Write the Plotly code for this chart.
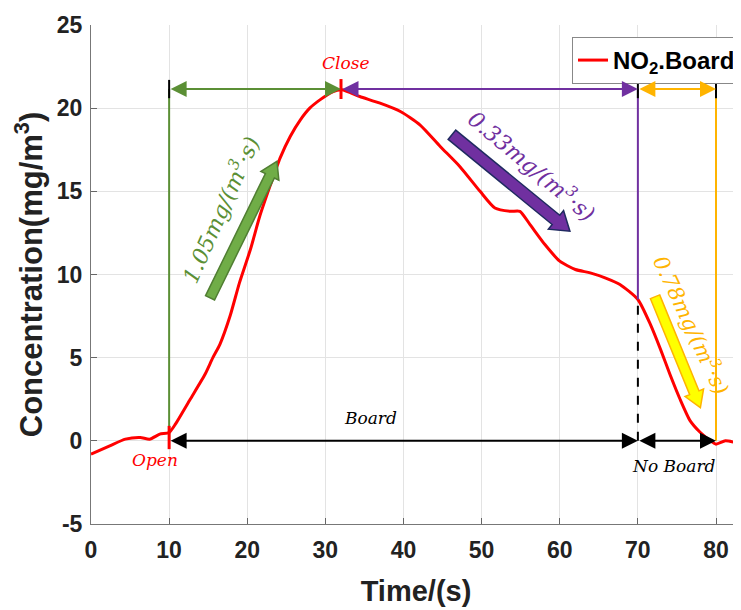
import math
import plotly.graph_objects as go

# Data
time_s = [0, 2.4, 4.4, 6.3, 7.5, 8.8, 10, 10.8, 12.7, 14.6, 15.6, 16.5, 17.8, 19, 20.4, 21.6, 22.9, 24.2,
          25.5, 26.8, 28, 29.3, 31, 32.1, 34.4, 37, 39.6, 42.1, 44.7, 47.2, 49.8, 51.7, 53.7, 54.9,
          56.2, 58.1, 60, 62, 63.9, 65.8, 67.7, 70, 71.6, 72.9, 74.1, 75.4, 76.7, 78, 79.3, 80,
          81.2, 82.5, 83.3]
no2_board = [-0.8, -0.3, 0.1, 0.2, 0.1, 0.4, 0.5, 1.0, 2.5, 4.0, 5.0, 5.8, 7.5, 9.5, 11.5, 13.5, 15.3, 17.0,
             18.3, 19.3, 20.0, 20.5, 21.0, 21.1, 20.7, 20.3, 19.8, 19.0, 17.7, 16.5, 15.0, 14.0, 13.8, 13.8,
             13.0, 11.8, 10.8, 10.3, 10.1, 9.8, 9.4, 8.5, 7.0, 5.5, 4.0, 2.5, 1.2, 0.5, 0.0, -0.2,
             0.0, -0.1, -0.2]
x_ticks = [0, 10, 20, 30, 40, 50, 60, 70, 80]
y_ticks = [-5, 0, 5, 10, 15, 20, 25]
y_tick_text = ["-5", "0", "5", "10", "15", "20", "25"]
t_open, t_close, t_cut, t_end = 10, 32, 70, 80
level_top = 21.15
y_at_cut = 8.5
rate_labels = ["1.05mg/(m<sup>3</sup>·s)", "0.33mg/(m<sup>3</sup>·s)", "0.78mg/(m<sup>3</sup>·s)"]
# rate arrows: (tail x, tail y, tip x, tip y)
rate_arrows = [(15.24, 8.6, 23.8, 16.8), (46.2, 18.4, 61.3, 12.6), (72.2, 8.66, 78.0, 2.0)]

X_RANGE = [0, 83.2]
Y_RANGE = [-5, 25]
# the page body adds an 8px offset; size and margins compensate
W, H = 733, 602
M = dict(l=83, r=0, t=17, b=86)
sx = (W - M["l"] - M["r"]) / (X_RANGE[1] - X_RANGE[0])
sy = (H - M["t"] - M["b"]) / (Y_RANGE[1] - Y_RANGE[0])

GREEN = "#5B8F35"
PURPLE = "#7030A0"
ORANGE = "#FFB400"
RED = "#FF0000"

fig = go.Figure()
fig.add_trace(go.Scatter(x=time_s, y=no2_board, mode="lines", name="<b>NO<sub>2</sub>.Board</b>",
                         showlegend=True,
                         line=dict(color=RED, width=3, shape="spline", smoothing=0.6)))


def fat_arrow_path(x0, y0, x1, y1, shaft, head_w, head_l):
    px0, py0 = x0 * sx, y0 * sy
    px1, py1 = x1 * sx, y1 * sy
    L = math.hypot(px1 - px0, py1 - py0)
    ux, uy = (px1 - px0) / L, (py1 - py0) / L
    nx, ny = -uy, ux
    bx, by = px1 - ux * head_l, py1 - uy * head_l
    pts = [
        (px0 + nx * shaft / 2, py0 + ny * shaft / 2),
        (bx + nx * shaft / 2, by + ny * shaft / 2),
        (bx + nx * head_w / 2, by + ny * head_w / 2),
        (px1, py1),
        (bx - nx * head_w / 2, by - ny * head_w / 2),
        (bx - nx * shaft / 2, by - ny * shaft / 2),
        (px0 - nx * shaft / 2, py0 - ny * shaft / 2),
    ]
    return "M " + " L ".join(f"{p[0] / sx:.4f},{p[1] / sy:.4f}" for p in pts) + " Z"


shapes = [
    dict(type="line", x0=t_open, x1=t_open, y0=0, y1=level_top, line=dict(color=GREEN, width=2)),
    dict(type="line", x0=t_cut, x1=t_cut, y0=y_at_cut, y1=level_top, line=dict(color=PURPLE, width=2)),
    dict(type="line", x0=t_cut, x1=t_cut, y0=0, y1=y_at_cut, line=dict(color="black", width=2, dash="dash")),
    dict(type="line", x0=t_end, x1=t_end, y0=0, y1=level_top, line=dict(color=ORANGE, width=2)),
    dict(type="line", x0=t_open, x1=t_open, y0=level_top - 0.55, y1=level_top + 0.55, line=dict(color="black", width=2)),
    dict(type="line", x0=t_cut, x1=t_cut, y0=level_top - 0.55, y1=level_top + 0.55, line=dict(color="black", width=2)),
    dict(type="line", x0=t_end, x1=t_end, y0=level_top - 0.55, y1=level_top + 0.55, line=dict(color="black", width=2)),
    dict(type="line", x0=t_close, x1=t_close, y0=level_top - 0.6, y1=level_top + 0.6, line=dict(color=RED, width=3)),
    dict(type="line", x0=t_open, x1=t_open, y0=-0.5, y1=0.9, line=dict(color=RED, width=3)),
]
arrow_styles = [("#70AD47", "#507E32", 10, 20, 16), (PURPLE, "#1F2A60", 12, 24, 18), ("#FFFF00", ORANGE, 10, 20, 16)]
for (x0, y0, x1, y1), (fill, edge, sh, hw, hl) in zip(rate_arrows, arrow_styles):
    shapes.append(dict(type="path", path=fat_arrow_path(x0, y0, x1, y1, sh, hw, hl),
                       fillcolor=fill, line=dict(color=edge, width=1.5), layer="above"))

anns = []


def dbl(x0, x1, y, color):
    anns.append(dict(x=x1, y=y, ax=x0, ay=y, xref="x", yref="y", axref="x", ayref="y",
                     showarrow=True, arrowhead=2, arrowside="end+start", arrowsize=1.6,
                     arrowwidth=2, arrowcolor=color, text=""))


dbl(t_open, t_close, level_top, GREEN)
dbl(t_close, t_cut, level_top, PURPLE)
dbl(t_cut, t_end, level_top, ORANGE)
dbl(t_open, t_cut, 0, "black")
dbl(t_cut, t_end, 0, "black")


def txt(x, y, s, color, angle=0, size=17):
    anns.append(dict(x=x, y=y, xref="x", yref="y", text=f"<i>{s}</i>",
                     showarrow=False, textangle=angle,
                     font=dict(family="DejaVu Serif", size=size, color=color)))


txt(16.4, 13.9, rate_labels[0], GREEN, -66, 22)
txt(56.5, 16.6, rate_labels[1], PURPLE, 40, 22)
txt(76.9, 7.0, rate_labels[2], ORANGE, 65, 21)
txt(32.6, 22.7, "Close", RED)
txt(8.2, -1.15, "Open", RED)
txt(35.8, 1.4, "Board", "black")
txt(74.6, -1.5, "No Board", "black")

axis_common = dict(ticks="inside", ticklen=6, tickcolor="#666", showgrid=True, gridcolor="#E3E3E3",
                   showline=True, linecolor="#777", linewidth=1, zeroline=False, automargin=False,
                   tickfont=dict(family="Liberation Sans", size=23, color="#222", weight="bold"))

fig.update_layout(
    width=W, height=H,
    margin=M,
    plot_bgcolor="white", paper_bgcolor="white",
    shapes=shapes, annotations=anns,
    font=dict(family="Liberation Sans", color="#222222"),
    showlegend=True,
    legend=dict(x=1, xanchor="right", y=0.976, yanchor="top", bgcolor="white",
                bordercolor="#888888", borderwidth=1,
                font=dict(family="Liberation Sans", size=24, color="black")),
    xaxis=dict(range=X_RANGE, tickvals=x_ticks, ticklabelstandoff=5, **axis_common,
               title=dict(text="<b>Time/(s)</b>", font=dict(family="Liberation Sans", size=29, color="#222"),
                          standoff=19)),
    yaxis=dict(range=Y_RANGE, tickvals=y_ticks, ticktext=y_tick_text, ticklabelstandoff=3, **axis_common,
               title=dict(text="<b>Concentration(mg/m<sup>3</sup>)</b>",
                          font=dict(family="Liberation Sans", size=31, color="#222"), standoff=4)),
)

fig.write_html("out.html")
